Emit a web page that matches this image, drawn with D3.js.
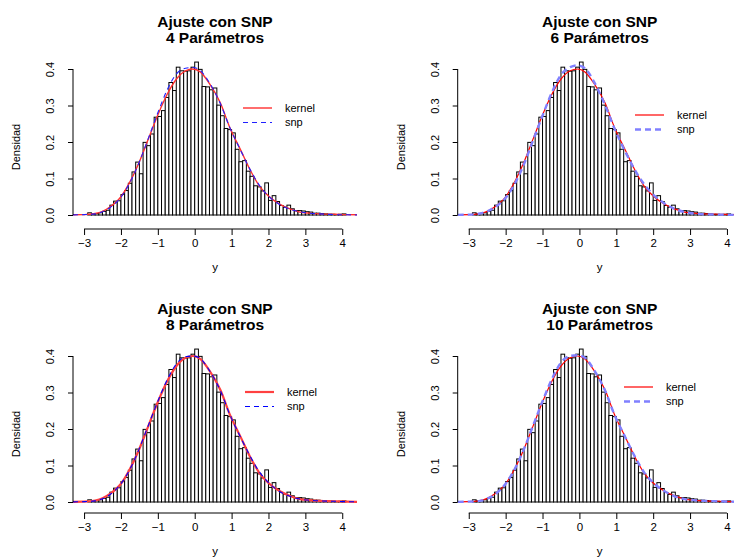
<!DOCTYPE html>
<html>
<head>
<meta charset="utf-8">
<script src="https://cdn.jsdelivr.net/npm/d3@7/dist/d3.min.js"></script>
<style>
  html, body { margin: 0; padding: 0; background: #fff; }
  svg { display: block; }
  text { font-family: "Liberation Sans", Arial, Helvetica, sans-serif; fill: #000; }
</style>
</head>
<body>
<svg id="chart" width="734" height="560"></svg>
<script>
// Histogram of the sample: left edges of the 0.1-wide bins and their densities
const binLeft = [
  -2.9, -2.8, -2.7, -2.6, -2.5, -2.4, -2.3, -2.2, -2.1, -2.0,
  -1.9, -1.8, -1.7, -1.6, -1.5, -1.4, -1.3, -1.2, -1.1, -1.0,
  -0.9, -0.8, -0.7, -0.6, -0.5, -0.4, -0.3, -0.2, -0.1, 0.0,
   0.1,  0.2,  0.3,  0.4,  0.5,  0.6,  0.7,  0.8,  0.9, 1.0,
   1.1,  1.2,  1.3,  1.4,  1.5,  1.6,  1.7,  1.8,  1.9, 2.0,
   2.1,  2.2,  2.3,  2.4,  2.5,  2.6,  2.7,  2.8,  2.9, 3.0,
   3.1,  3.2,  3.3,  3.4,  3.5,  3.6,  3.7,  3.8,  3.9, 4.0
];
const binWidth = 0.1;
const binDensity = [
  0.006, 0.003, 0.004, 0.006, 0.010, 0.013, 0.027, 0.038, 0.039, 0.056,
  0.067, 0.087, 0.118, 0.145, 0.113, 0.199, 0.190, 0.222, 0.268, 0.270,
  0.286, 0.322, 0.363, 0.341, 0.405, 0.395, 0.394, 0.395, 0.405, 0.419,
  0.399, 0.352, 0.351, 0.343, 0.348, 0.301, 0.272, 0.237, 0.234, 0.225,
  0.180, 0.146, 0.149, 0.120, 0.106, 0.080, 0.077, 0.066, 0.088, 0.040,
  0.053, 0.037, 0.026, 0.021, 0.027, 0.017, 0.012, 0.012, 0.011, 0.009,
  0.008, 0.005, 0.005, 0.004, 0.003, 0.002, 0.002, 0.001, 0.002, 0.003
];

// Evaluation grid of the fitted densities
const gridX = [
  -3.3, -3.0, -2.7, -2.5, -2.3, -2.0, -1.75, -1.5, -1.25, -1.0,
  -0.75, -0.5, -0.25, -0.05, 0.15, 0.4, 0.7, 0.95, 1.25, 1.5,
  1.75, 2.0, 2.3, 2.6, 2.85, 3.1, 3.4, 3.8, 4.1, 4.4
];
const kernelDensity = [
  0.0005, 0.001, 0.004, 0.010, 0.022, 0.050, 0.092, 0.146, 0.210, 0.274,
  0.330, 0.372, 0.395, 0.400, 0.392, 0.360, 0.306, 0.240, 0.177, 0.124,
  0.080, 0.052, 0.030, 0.016, 0.008, 0.005, 0.003, 0.002, 0.001, 0.0005
];
const snp4 = [
  0.0003, 0.001, 0.003, 0.009, 0.020, 0.049, 0.090, 0.146, 0.212, 0.280,
  0.342, 0.386, 0.402, 0.404, 0.396, 0.362, 0.304, 0.240, 0.176, 0.125,
  0.082, 0.052, 0.029, 0.015, 0.009, 0.005, 0.003, 0.001, 0.0005, 0.0002
];
const snp6 = [
  0.0003, 0.001, 0.004, 0.010, 0.021, 0.047, 0.086, 0.140, 0.206, 0.272,
  0.335, 0.384, 0.405, 0.410, 0.402, 0.364, 0.300, 0.237, 0.172, 0.124,
  0.085, 0.056, 0.032, 0.016, 0.008, 0.004, 0.002, 0.001, 0.0004, 0.0002
];
const snp8 = [
  0.0004, 0.001, 0.003, 0.009, 0.020, 0.050, 0.091, 0.147, 0.212, 0.276,
  0.334, 0.378, 0.398, 0.400, 0.393, 0.360, 0.304, 0.240, 0.176, 0.126,
  0.083, 0.053, 0.029, 0.015, 0.008, 0.005, 0.003, 0.002, 0.001, 0.0005
];
const snp10 = [
  0.0004, 0.001, 0.003, 0.009, 0.020, 0.050, 0.091, 0.146, 0.211, 0.276,
  0.336, 0.382, 0.400, 0.402, 0.395, 0.361, 0.304, 0.239, 0.176, 0.125,
  0.082, 0.053, 0.030, 0.015, 0.008, 0.005, 0.003, 0.002, 0.001, 0.0005
];

// Labels and ticks
const mainTitle = "Ajuste con SNP";
const panelSubtitles = ["4 Parámetros", "6 Parámetros", "8 Parámetros", "10 Parámetros"];
const snpSeries = [snp4, snp6, snp8, snp10];
const legendLabels = ["kernel", "snp"];
const xTicks = [-3, -2, -1, 0, 1, 2, 3, 4];
const yTicks = [0.0, 0.1, 0.2, 0.3, 0.4];
const xLabel = "y";
const yLabel = "Densidad";

// Panel geometry and line styles
const panels = [
  { left: 73,    right: 357,   zeroY: 215, topY: 69,  axisY: 229, titleY: 27,  legX: 243, legY: 108,
    kStyle: { color: "#ff3030", width: 1.4 }, sStyle: { color: "#2020ff", width: 1.1, dash: "5,4" } },
  { left: 457.7, right: 741.7, zeroY: 215, topY: 69,  axisY: 229, titleY: 27,  legX: 635, legY: 115,
    kStyle: { color: "#ff0000", width: 1.2 }, sStyle: { color: "#8080ff", width: 2.4, dash: "6,4" } },
  { left: 73,    right: 357,   zeroY: 502, topY: 356, axisY: 513, titleY: 314, legX: 245, legY: 392,
    kStyle: { color: "#ff4040", width: 2.2 }, sStyle: { color: "#0000ff", width: 1.1, dash: "5,4" } },
  { left: 457.7, right: 741.7, zeroY: 502, topY: 356, axisY: 513, titleY: 314, legX: 624, legY: 387,
    kStyle: { color: "#ff0000", width: 1.2 }, sStyle: { color: "#8080ff", width: 2.4, dash: "6,4" } }
];

const svg = d3.select("#chart");

panels.forEach((p, i) => {
  const g = svg.append("g");
  const x = d3.scaleLinear().domain([-3.3, 4.4]).range([p.left, p.right]);
  const y = d3.scaleLinear().domain([0, 0.4]).range([p.zeroY, p.topY]);

  const clipId = "clip" + i;
  g.append("clipPath").attr("id", clipId)
    .append("rect")
    .attr("x", p.left).attr("y", p.topY - 30)
    .attr("width", p.right - p.left).attr("height", p.axisY - p.topY + 30);

  // histogram bars
  g.append("g")
    .selectAll("rect")
    .data(binLeft.map((b, j) => ({ x0: b, x1: b + binWidth, d: binDensity[j] })))
    .join("rect")
    .attr("x", d => x(d.x0))
    .attr("y", d => y(d.d))
    .attr("width", d => x(d.x1) - x(d.x0))
    .attr("height", d => y(0) - y(d.d))
    .attr("fill", "#fff")
    .attr("stroke", "#000")
    .attr("stroke-width", 1);

  const line = d3.line()
    .x(d => x(d[0]))
    .y(d => y(d[1]))
    .curve(d3.curveMonotoneX);

  const curves = g.append("g").attr("clip-path", `url(#${clipId})`);
  curves.append("path")
    .attr("d", line(gridX.map((v, j) => [v, kernelDensity[j]])))
    .attr("fill", "none")
    .attr("stroke", p.kStyle.color)
    .attr("stroke-width", p.kStyle.width);
  curves.append("path")
    .attr("d", line(gridX.map((v, j) => [v, snpSeries[i][j]])))
    .attr("fill", "none")
    .attr("stroke", p.sStyle.color)
    .attr("stroke-width", p.sStyle.width)
    .attr("stroke-dasharray", p.sStyle.dash);

  // x axis
  const xAxis = d3.axisBottom(x).tickValues(xTicks).tickSize(6).tickSizeOuter(0)
    .tickFormat(d => d3.format("d")(d).replace("-", "\u2212"));
  const xg = g.append("g").attr("transform", `translate(0,${p.axisY})`).call(xAxis);
  xg.select(".domain").attr("d", `M${x(xTicks[0])},0H${x(xTicks[xTicks.length - 1])}`)
    .attr("stroke", "#000");
  xg.selectAll(".tick line").attr("stroke", "#000");
  xg.selectAll(".tick text")
    .attr("y", 10).attr("dy", "0.71em")
    .style("font-size", "11.5px")
    .style("font-family", "'Liberation Sans', Arial, sans-serif");

  // y axis
  const yAxis = d3.axisLeft(y).tickValues(yTicks).tickSize(5).tickSizeOuter(0)
    .tickFormat(d3.format(".1f"));
  const yg = g.append("g").attr("transform", `translate(${p.left},0)`).call(yAxis);
  yg.select(".domain").attr("d", `M0,${y(0)}V${y(0.4)}`).attr("stroke", "#000");
  yg.selectAll(".tick line").attr("stroke", "#000");
  yg.selectAll(".tick text")
    .attr("x", 0).attr("dy", null)
    .attr("text-anchor", "middle")
    .attr("transform", "translate(-19,0) rotate(-90)")
    .style("font-size", "11px")
    .style("font-family", "'Liberation Sans', Arial, sans-serif");

  // axis titles
  g.append("text")
    .attr("x", (p.left + p.right) / 2).attr("y", p.axisY + 42)
    .attr("text-anchor", "middle")
    .style("font-size", "11.5px")
    .text(xLabel);
  g.append("text")
    .attr("transform", `translate(${p.left - 53},${(y(0) + y(0.4)) / 2 + 5}) rotate(-90)`)
    .attr("text-anchor", "middle")
    .style("font-size", "11px")
    .text(yLabel);

  // panel title
  const cx = (p.left + p.right) / 2;
  g.append("text")
    .attr("x", cx).attr("y", p.titleY)
    .attr("text-anchor", "middle")
    .style("font-size", "15.5px").style("font-weight", "bold")
    .text(mainTitle);
  g.append("text")
    .attr("x", cx).attr("y", p.titleY + 15.5)
    .attr("text-anchor", "middle")
    .style("font-size", "15.5px").style("font-weight", "bold")
    .text(panelSubtitles[i]);

  // legend
  const leg = g.append("g");
  leg.append("line")
    .attr("x1", p.legX).attr("x2", p.legX + 29)
    .attr("y1", p.legY).attr("y2", p.legY)
    .attr("stroke", p.kStyle.color).attr("stroke-width", p.kStyle.width);
  leg.append("line")
    .attr("x1", p.legX).attr("x2", p.legX + 29)
    .attr("y1", p.legY + 14.5).attr("y2", p.legY + 14.5)
    .attr("stroke", p.sStyle.color).attr("stroke-width", p.sStyle.width)
    .attr("stroke-dasharray", p.sStyle.dash);
  legendLabels.forEach((t, k) => {
    leg.append("text")
      .attr("x", p.legX + 42).attr("y", p.legY + k * 14.5)
      .attr("dy", "0.35em")
      .style("font-size", "11px")
      .text(t);
  });
});
</script>
</body>
</html>
